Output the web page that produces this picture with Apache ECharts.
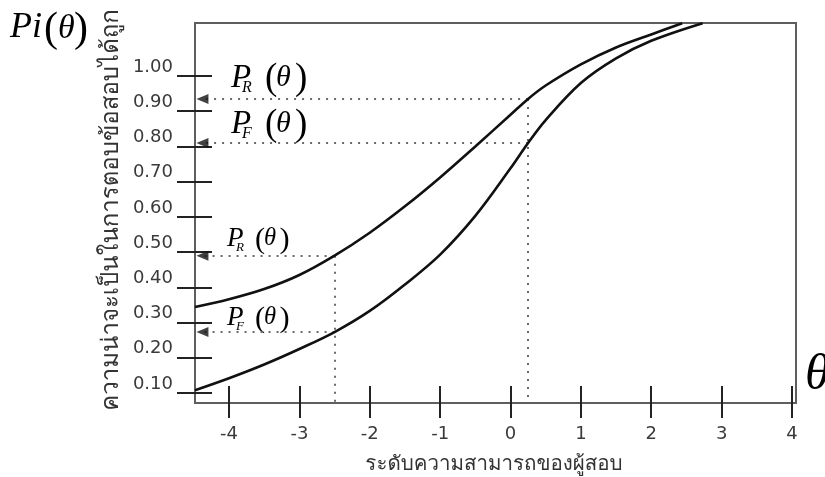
<!DOCTYPE html>
<html>
<head>
<meta charset="utf-8">
<script src="https://cdn.jsdelivr.net/npm/echarts@6/dist/echarts.min.js"></script>
<style>
  html, body { margin: 0; padding: 0; background: #fff; }
  #chart { width: 825px; height: 477px; }
</style>
</head>
<body>
<div id="chart"></div>
<script>
// Item characteristic curves: P_R (upper) and P_F (lower) against ability theta
const thetaR = [-4.483, -4, -3.5, -3, -2.5, -2, -1.5, -1, -0.5, 0, 0.25, 0.5, 1, 1.5, 2, 2.44];
const probR  = [0.344, 0.366, 0.395, 0.435, 0.49, 0.555, 0.63, 0.712, 0.80, 0.89, 0.935, 0.973, 1.033, 1.081, 1.118, 1.15];
const thetaF = [-4.483, -4, -3.5, -3, -2.5, -2, -1.5, -1, -0.5, 0, 0.25, 0.5, 1, 1.5, 2, 2.73];
const probF  = [0.108, 0.142, 0.181, 0.225, 0.273, 0.333, 0.408, 0.493, 0.603, 0.738, 0.81, 0.875, 0.98, 1.05, 1.10, 1.15];

const guideTheta = [-2.5, 0.25];
const guideR = [0.49, 0.935];
const guideF = [0.273, 0.81];

// Tick values and labels
const xTicks = [-4, -3, -2, -1, 0, 1, 2, 3, 4];
const yTicks = [0.1, 0.2, 0.3, 0.4, 0.5, 0.6, 0.7, 0.8, 0.9, 1.0];
const yTickLabels = ['0.10', '0.20', '0.30', '0.40', '0.50', '0.60', '0.70', '0.80', '0.90', '1.00'];

const xTitle = 'ระดับความสามารถของผู้สอบ';
const yTitle = 'ความน่าจะเป็นในการตอบข้อสอบได้ถูก';

const X_MIN = -4.483, X_MAX = 4.057;
const Y_MIN = 0.0716, Y_MAX = 1.1505;
const ARROW_X = -4.377;

const thaiFont = 'Tahoma, Loma, Garuda, "Noto Sans Thai", "Noto Sans", "DejaVu Sans", sans-serif';
const numFont = '"DejaVu Sans", Verdana, sans-serif';
const mathFont = '"Liberation Serif", "Times New Roman", serif';

const tickStyle = { color: '#222', width: 2 };

function pairs(xs, ys) { return xs.map((x, i) => [x, ys[i]]); }

// math-style label: italic letter with italic subscript, then (theta)
function mathLabel(x, cy, k, letter, sub) {
  const t = (txt, dx, dy, size, italic) => ({
    type: 'text', x: x + dx * k, y: cy + dy * k, silent: true,
    style: { text: txt, fontFamily: mathFont, fontSize: size * k, fontStyle: italic ? 'italic' : 'normal',
             fill: '#000', align: 'left', verticalAlign: 'middle' }
  });
  return [
    t(letter, 0, 0, 33, true),
    t(sub, 11, 10, 16, true),
    t('(', 34, 1, 37, false),
    t('θ', 45, 0, 30, true),
    t(')', 64, 1, 37, false)
  ];
}

const hLines = [];
const vLines = [];
guideTheta.forEach((th, i) => {
  hLines.push([{ coord: [th, guideR[i]] }, { coord: [ARROW_X, guideR[i]] }]);
  hLines.push([{ coord: [th, guideF[i]] }, { coord: [ARROW_X, guideF[i]] }]);
  vLines.push([{ coord: [th, guideR[i]] }, { coord: [th, Y_MIN] }]);
});
const arrowPts = [];
guideTheta.forEach((th, i) => { arrowPts.push([ARROW_X, guideR[i]], [ARROW_X, guideF[i]]); });

const chart = echarts.init(document.getElementById('chart'), null, { renderer: 'canvas' });

chart.setOption({
  animation: false,
  backgroundColor: '#fff',
  grid: {
    left: 195, right: 29, top: 23, bottom: 74,
    show: true, borderColor: '#5e5e5e', borderWidth: 2,
    outerBoundsMode: 'none', containLabel: false
  },
  xAxis: [
    {
      type: 'value', min: X_MIN, max: X_MAX, position: 'bottom',
      axisLine: { show: true, onZero: false, lineStyle: { color: '#5e5e5e', width: 2 } },
      axisTick: { show: true, customValues: xTicks, length: 15, inside: false, lineStyle: tickStyle },
      axisLabel: { customValues: xTicks, margin: 22, fontSize: 18, color: '#3a3a3a', fontFamily: numFont },
      splitLine: { show: false }
    },
    {
      type: 'value', min: X_MIN, max: X_MAX, position: 'bottom',
      axisLine: { show: false, onZero: false },
      axisTick: { show: true, customValues: xTicks, length: 17, inside: true, lineStyle: tickStyle },
      axisLabel: { show: false },
      splitLine: { show: false }
    }
  ],
  yAxis: [
    {
      type: 'value', min: Y_MIN, max: Y_MAX, position: 'left',
      axisLine: { show: true, onZero: false, lineStyle: { color: '#5e5e5e', width: 2 } },
      axisTick: { show: true, customValues: yTicks, length: 18, inside: false, lineStyle: tickStyle },
      axisLabel: {
        customValues: yTicks, margin: 22, fontSize: 18, color: '#3a3a3a', fontFamily: numFont,
        verticalAlign: 'bottom',
        formatter: v => yTickLabels[yTicks.findIndex(t => Math.abs(t - v) < 1e-6)]
      },
      splitLine: { show: false }
    },
    {
      type: 'value', min: Y_MIN, max: Y_MAX, position: 'left',
      axisLine: { show: false, onZero: false },
      axisTick: { show: true, customValues: yTicks, length: 17, inside: true, lineStyle: tickStyle },
      axisLabel: { show: false },
      splitLine: { show: false }
    }
  ],
  series: [
    {
      name: 'P_R', type: 'line', xAxisIndex: 0, yAxisIndex: 0,
      data: pairs(thetaR, probR), smooth: 0.35, showSymbol: false, silent: true,
      lineStyle: { color: '#111', width: 2.6 }, z: 5
    },
    {
      name: 'P_F', type: 'line', xAxisIndex: 0, yAxisIndex: 0,
      data: pairs(thetaF, probF), smooth: 0.35, showSymbol: false, silent: true,
      lineStyle: { color: '#111', width: 2.6 }, z: 5
    },
    {
      name: 'guides', type: 'line', xAxisIndex: 0, yAxisIndex: 0, data: [], silent: true,
      markLine: {
        silent: true, animation: false, symbol: ['none', 'none'],
        label: { show: false },
        lineStyle: { color: '#6a6a6a', width: 2, type: [2, 6] },
        data: hLines.concat(vLines)
      }
    },
    {
      name: 'arrows', type: 'scatter', xAxisIndex: 0, yAxisIndex: 0, silent: true,
      data: arrowPts, symbol: 'triangle', symbolSize: [10, 12], symbolRotate: 90,
      itemStyle: { color: '#111' }, z: 6
    }
  ],
  graphic: [
    {
      type: 'text', x: 113, y: 210, rotation: Math.PI / 2, silent: true,
      style: { text: yTitle, x: 0, y: 0, align: 'center', verticalAlign: 'middle',
               fontFamily: thaiFont, fontSize: 24, fill: '#333' }
    },
    {
      type: 'text', x: 494, y: 465, silent: true,
      style: { text: xTitle, align: 'center', verticalAlign: 'middle',
               fontFamily: thaiFont, fontSize: 20.5, fill: '#333' }
    },
    // Pi(theta) on the vertical axis
    { type: 'text', x: 10, y: 28, silent: true,
      style: { text: 'Pi', fontFamily: mathFont, fontSize: 36, fontStyle: 'italic', fill: '#000', align: 'left', verticalAlign: 'middle' } },
    { type: 'text', x: 44, y: 30, silent: true,
      style: { text: '(', fontFamily: mathFont, fontSize: 42, fill: '#000', align: 'left', verticalAlign: 'middle' } },
    { type: 'text', x: 58, y: 29, silent: true,
      style: { text: 'θ', fontFamily: mathFont, fontSize: 34, fontStyle: 'italic', fill: '#000', align: 'left', verticalAlign: 'middle' } },
    { type: 'text', x: 74, y: 30, silent: true,
      style: { text: ')', fontFamily: mathFont, fontSize: 42, fill: '#000', align: 'left', verticalAlign: 'middle' } },
    // theta at the end of the horizontal axis
    { type: 'text', x: 805, y: 376, silent: true,
      style: { text: 'θ', fontFamily: mathFont, fontSize: 50, fontStyle: 'italic', fill: '#000', align: 'left', verticalAlign: 'middle' } }
  ]
    .concat(mathLabel(231, 78, 1, 'P', 'R'))
    .concat(mathLabel(231, 124, 1, 'P', 'F'))
    .concat(mathLabel(227, 239, 0.82, 'P', 'R'))
    .concat(mathLabel(227, 318, 0.82, 'P', 'F'))
});
</script>
</body>
</html>
